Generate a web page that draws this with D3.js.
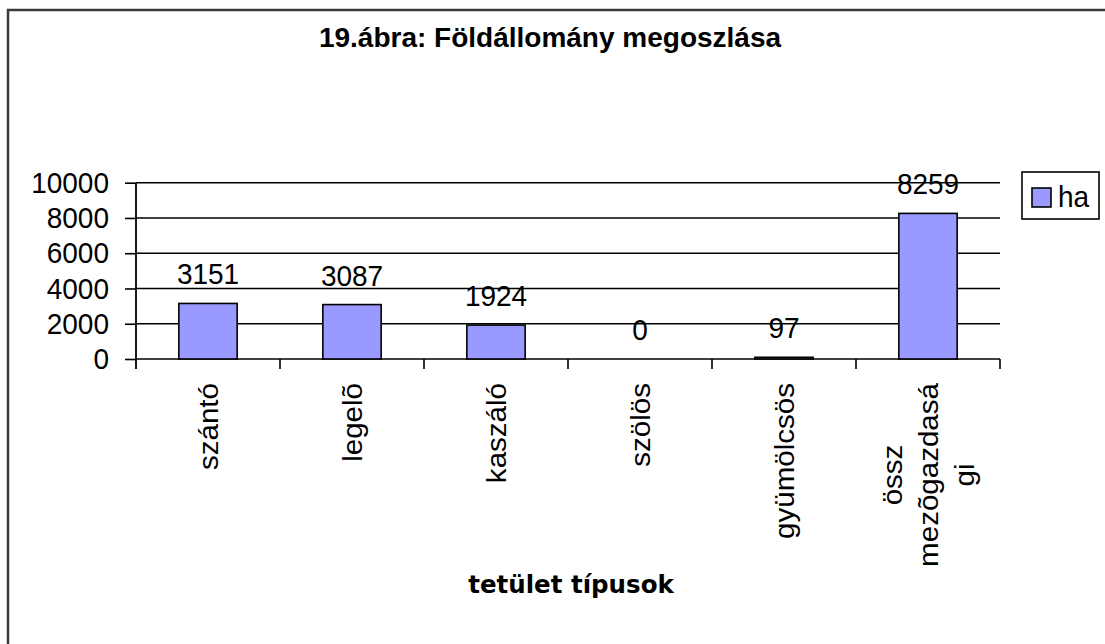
<!DOCTYPE html>
<html>
<head>
<meta charset="utf-8">
<script src="https://cdn.jsdelivr.net/npm/d3@7"></script>
<style>
  html, body { margin: 0; padding: 0; background: #fff; }
  svg { display: block; }
  text { font-family: "Liberation Sans", Arial, sans-serif; fill: #000; }
</style>
</head>
<body>
<svg id="chart" width="1105" height="644"></svg>
<script>
// ---- data ----
const titleText = "19.ábra: Földállomány megoszlása";
const xTitle = "tetület típusok";
const seriesName = "ha";
const categories = ["szántó", "legelõ", "kaszáló", "szölös", "gyümölcsös", "össz mezõgazdasági"];
const categoryLines = [["szántó"], ["legelõ"], ["kaszáló"], ["szölös"], ["gyümölcsös"], ["össz", "mezõgazdasá", "gi"]];
const values = [3151, 3087, 1924, 0, 97, 8259];
const yTicks = [0, 2000, 4000, 6000, 8000, 10000];

// ---- layout ----
const W = 1105, H = 644;
const plot = { left: 136, right: 1000, top: 182.7, bottom: 359 };
const barColor = "#9999FF";
const fontSize = 28;
const stretch = 1.08; // reference text is slightly taller than wide

const svg = d3.select("#chart");

// outer border (extends past right / bottom edge as in reference)
svg.append("rect")
  .attr("x", 8).attr("y", 10)
  .attr("width", W + 50).attr("height", H + 50)
  .attr("fill", "#fff")
  .attr("stroke", "#3a3a3a").attr("stroke-width", 2.5);

const x = d3.scaleBand().domain(categories).range([plot.left, plot.right]).paddingInner(0).paddingOuter(0);
const y = d3.scaleLinear().domain([0, 10000]).range([plot.bottom, plot.top]);

// gridlines
svg.append("g").selectAll("line").data(yTicks).join("line")
  .attr("x1", plot.left).attr("x2", plot.right)
  .attr("y1", d => y(d)).attr("y2", d => y(d))
  .attr("stroke", "#000").attr("stroke-width", 1.6);

// y axis
const yAxis = svg.append("g")
  .attr("transform", `translate(${plot.left},0)`)
  .call(d3.axisLeft(y).tickValues(yTicks).tickSize(11).tickPadding(16).tickFormat(d3.format("d")));
yAxis.select(".domain").remove();
yAxis.selectAll(".tick line").attr("stroke", "#000").attr("stroke-width", 1.6);
yAxis.selectAll(".tick text")
  .attr("font-family", "'Liberation Sans', Arial, sans-serif")
  .attr("font-size", fontSize).attr("fill", "#000")
  .attr("transform", `scale(1,${stretch})`);

// y axis vertical line (extending below zero like a tick)
svg.append("line")
  .attr("x1", plot.left).attr("x2", plot.left)
  .attr("y1", y(10000)).attr("y2", y(0) + 10)
  .attr("stroke", "#000").attr("stroke-width", 1.8);

// x axis category boundary ticks
const bounds = categories.map(c => x(c)).concat([x(categories[categories.length - 1]) + x.bandwidth()]);
svg.append("g").selectAll("line").data(bounds.slice(1)).join("line")
  .attr("x1", d => d).attr("x2", d => d)
  .attr("y1", y(0)).attr("y2", y(0) + 10)
  .attr("stroke", "#000").attr("stroke-width", 1.6);

// bars
const barW = x.bandwidth() * 0.405;
svg.append("g").selectAll("rect").data(values).join("rect")
  .attr("x", (d, i) => x(categories[i]) + x.bandwidth() / 2 - barW / 2)
  .attr("y", d => y(d))
  .attr("width", barW)
  .attr("height", d => y(0) - y(d))
  .attr("fill", barColor)
  .attr("stroke", "#000").attr("stroke-width", 1.6);

// value labels
svg.append("g").selectAll("text").data(values).join("text")
  .attr("transform", (d, i) => `translate(${x(categories[i]) + x.bandwidth() / 2},${y(d) - 19}) scale(1,${stretch})`)
  .attr("text-anchor", "middle")
  .attr("font-size", fontSize)
  .text(d => d);

// category labels (rotated, multi-line centered)
const labelTop = 383;
const lineGap = 36;
categoryLines.forEach((lines, i) => {
  const cx = x(categories[i]) + x.bandwidth() / 2;
  const g = svg.append("g");
  const texts = lines.map((ln) => g.append("text")
      .attr("font-size", fontSize)
      .attr("text-anchor", "middle")
      .text(ln));
  const maxLen = d3.max(texts, t => t.node().getComputedTextLength()) * 1.055;
  const n = lines.length;
  texts.forEach((t, k) => {
    const bx = cx + 10 + (k - (n - 1) / 2) * lineGap;
    const by = labelTop + maxLen / 2;
    t.attr("transform", `translate(${bx},${by}) rotate(-90) scale(1.055,1)`);
  });
});

// title
svg.append("text")
  .attr("x", 550).attr("y", 47)
  .attr("text-anchor", "middle")
  .attr("font-size", 28).attr("font-weight", "bold")
  .text(titleText);

// x axis title
svg.append("text")
  .attr("x", 571).attr("y", 593)
  .attr("text-anchor", "middle")
  .style("font-family", "'DejaVu Sans', Verdana, sans-serif")
  .attr("font-size", 24.5).attr("font-weight", "bold")
  .text(xTitle);

// legend
const lg = svg.append("g");
lg.append("rect").attr("x", 1022).attr("y", 172).attr("width", 77).attr("height", 47)
  .attr("fill", "#fff").attr("stroke", "#000").attr("stroke-width", 1.6);
lg.append("rect").attr("x", 1032).attr("y", 188).attr("width", 19).attr("height", 19)
  .attr("fill", barColor).attr("stroke", "#000").attr("stroke-width", 1.6);
lg.append("text").attr("transform", `translate(1058,207) scale(1,${stretch})`)
  .attr("font-size", fontSize).text(seriesName);
</script>
</body>
</html>
